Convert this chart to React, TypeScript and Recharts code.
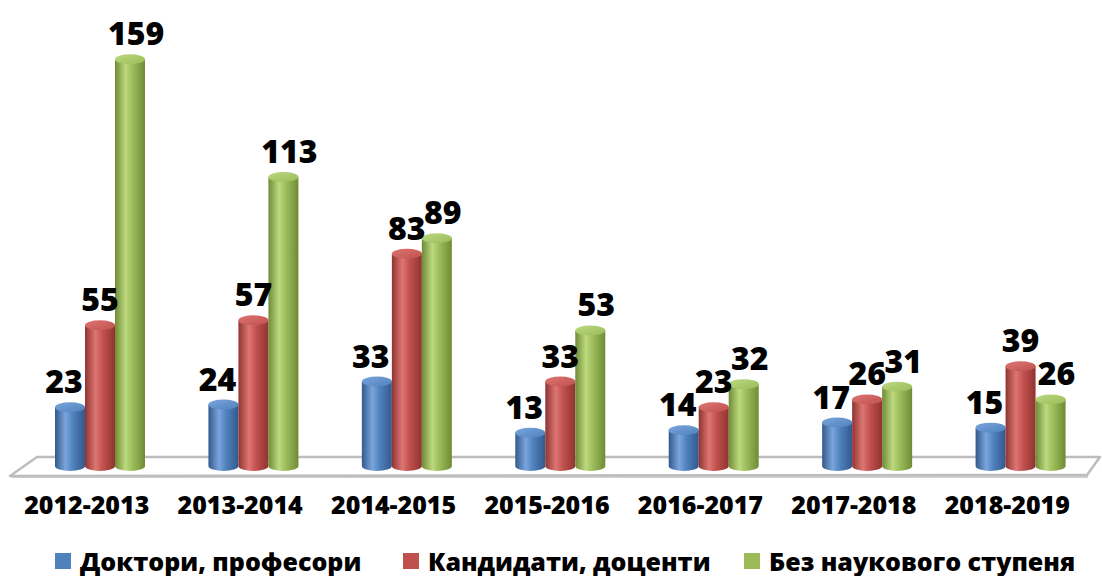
import { BarChart, Bar, XAxis, YAxis, LabelList } from "recharts";

const years = ["2012-2013", "2013-2014", "2014-2015", "2015-2016", "2016-2017", "2017-2018", "2018-2019"];
const doctors = [23, 24, 33, 13, 14, 17, 15];
const candidates = [55, 57, 83, 33, 23, 26, 39];
const noDegree = [159, 113, 89, 53, 32, 31, 26];

const seriesNames = ["Доктори, професори", "Кандидати, доценти", "Без наукового ступеня"];

const data = years.map((year, i) => ({
  year,
  doctors: doctors[i],
  candidates: candidates[i],
  noDegree: noDegree[i],
}));

const FONT = "'Open Sans', 'Noto Sans', sans-serif";
const RY = 5;

const palette = [
  { key: "blue", base: "#4F81BD", dark: "#33598c", light: "#7aa5dc" },
  { key: "red", base: "#C0504D", dark: "#8f3431", light: "#dd7673" },
  { key: "green", base: "#9BBB59", dark: "#6f8b36", light: "#bcd97f" },
];

const makeCylinder = (idx: number) => (props: any) => {
  const { x, y, width, height } = props;
  if (height == null || width == null) return null;
  const c = palette[idx];
  const rx = width / 2;
  const bottom = y + height;
  const body = `M${x},${y} L${x},${bottom} A${rx},${RY} 0 0 0 ${x + width},${bottom} L${x + width},${y} Z`;
  return (
    <g>
      <path d={body} fill={`url(#body-${c.key})`} />
      <ellipse cx={x + rx} cy={y} rx={rx} ry={RY} fill={`url(#top-${c.key})`} />
    </g>
  );
};

// small horizontal nudges so neighbouring labels do not collide
const labelShift = [-6, 0, 6];

const makeValueLabel = (idx: number) => (props: any) => {
  const { x, y, width, value } = props;
  return (
    <text
      x={x + width / 2 + labelShift[idx]}
      y={y - RY - 9}
      textAnchor="middle"
      fontFamily={FONT}
      fontWeight={800}
      fontSize={32}
      fill="#000"
    >
      {value}
    </text>
  );
};

const yearTick = (props: any) => {
  const { x, y, payload } = props;
  return (
    <text
      x={x - 13}
      y={y + 40}
      textAnchor="middle"
      fontFamily={FONT}
      fontWeight={800}
      fontSize={25}
      fill="#000"
    >
      {payload.value}
    </text>
  );
};

const Floor = () => (
  <svg width={1102} height={576} style={{ position: "absolute", left: 0, top: 0 }}>
    <polygon points="12,478 1088,478 1088,475 12,475" fill="#d0d0d0" />
    <polygon
      points="37,457 1100,457 1087,475 10,476"
      fill="#ffffff"
      stroke="#bdbdbd"
      strokeWidth={2.5}
      strokeLinejoin="round"
    />
  </svg>
);

const legendLeft = [55, 403, 744];

const Legend = () => (
  <div style={{ position: "absolute", left: 0, top: 544, width: 1102, height: 32 }}>
    {seriesNames.map((name, i) => (
      <div
        key={name}
        style={{
          position: "absolute",
          left: legendLeft[i],
          top: 0,
          display: "flex",
          alignItems: "center",
          fontFamily: FONT,
          fontWeight: 800,
          fontSize: 25,
          color: "#000",
          whiteSpace: "nowrap",
        }}
      >
        <span style={{ width: 16, height: 16, background: palette[i].base, display: "inline-block", marginRight: 9 }} />
        <span>{name}</span>
      </div>
    ))}
  </div>
);

export default function App() {
  return (
    <div style={{ position: "absolute", left: 0, top: 0, width: 1102, height: 576, background: "#fff" }}>
      <Floor />
      <div style={{ position: "absolute", left: 0, top: 0 }}>
        <BarChart
          width={1102}
          height={576}
          data={data}
          margin={{ top: 26, right: 5, bottom: 50, left: 23 }}
          barSize={30}
          barGap={0}
        >
          <defs>
            {palette.map((c) => (
              <linearGradient key={c.key} id={`body-${c.key}`} x1="0" y1="0" x2="1" y2="0">
                <stop offset="0%" stopColor={c.dark} />
                <stop offset="35%" stopColor={c.light} />
                <stop offset="60%" stopColor={c.base} />
                <stop offset="100%" stopColor={c.dark} />
              </linearGradient>
            ))}
            {palette.map((c) => (
              <linearGradient key={c.key} id={`top-${c.key}`} x1="0" y1="0" x2="1" y2="1">
                <stop offset="0%" stopColor={c.light} />
                <stop offset="100%" stopColor={c.base} />
              </linearGradient>
            ))}
          </defs>
          <XAxis dataKey="year" axisLine={false} tickLine={false} height={60} tick={yearTick} interval={0} />
          <YAxis hide domain={[0, 172]} />
          <Bar dataKey="doctors" name={seriesNames[0]} shape={makeCylinder(0)} isAnimationActive={false}>
            <LabelList dataKey="doctors" content={makeValueLabel(0)} />
          </Bar>
          <Bar dataKey="candidates" name={seriesNames[1]} shape={makeCylinder(1)} isAnimationActive={false}>
            <LabelList dataKey="candidates" content={makeValueLabel(1)} />
          </Bar>
          <Bar dataKey="noDegree" name={seriesNames[2]} shape={makeCylinder(2)} isAnimationActive={false}>
            <LabelList dataKey="noDegree" content={makeValueLabel(2)} />
          </Bar>
        </BarChart>
      </div>
      <Legend />
    </div>
  );
}
